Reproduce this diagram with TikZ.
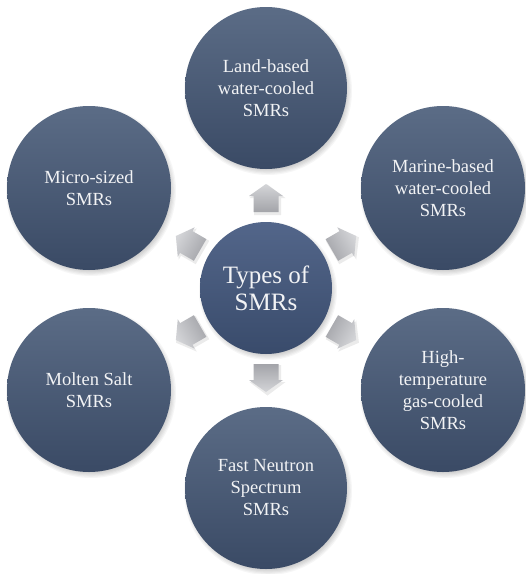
\documentclass[tikz,border=0pt]{standalone}
\usepackage{fontspec}
\setmainfont{Liberation Serif}
\definecolor{cTop}{HTML}{5B6C86}
\definecolor{cBot}{HTML}{3A4A65}
\definecolor{ccTop}{HTML}{53668A}
\definecolor{ccBot}{HTML}{394B6B}
\definecolor{txt}{HTML}{F2F3F5}
\definecolor{aTop}{HTML}{D4D5D8}
\definecolor{aBot}{HTML}{A3A4A9}
\newcommand{\fuzzyshadow}[3]{%
  \foreach \k in {0,...,6}{%
    \fill[black,opacity=0.035] (#1+2,#2+3) circle ({#3+3-\k*1.2});
  }}
\begin{document}
\begin{tikzpicture}[x=1pt,y=-1pt,
  outer/.style={circle,minimum size=162pt,inner sep=0pt,align=center,
    top color=cTop,bottom color=cBot,text=txt,
    font=\fontsize{18.5}{22}\selectfont},
  hub/.style={circle,minimum size=132pt,inner sep=0pt,align=center,
    top color=ccTop,bottom color=ccBot,text=txt,
    font=\fontsize{25}{27}\selectfont},
  blockarrow/.style={top color=aTop,bottom color=aBot,draw=none}]
\useasboundingbox (0,0) rectangle (526,574);
\fill[white] (0,0) rectangle (526,574);
% shadows
\fuzzyshadow{266}{88}{81}
\fuzzyshadow{443}{188}{82}
\fuzzyshadow{443}{390}{82}
\fuzzyshadow{266}{488}{81}
\fuzzyshadow{89}{390}{82}
\fuzzyshadow{89}{188}{82}
\fuzzyshadow{266}{288}{66}
% arrows
\foreach \ang/\px/\py in {90/266/198, 30/344/243, -30/344/333, 270/266/378, 210/188/333, 150/188/243}{
  \fill[black,opacity=0.08,shift={(\px+1.5,\py+2)},rotate=\ang]
    (-15,-13.5) -- (2,-13.5) -- (2,-18) -- (15.5,0) -- (2,18) -- (2,13.5) -- (-15,13.5) -- cycle;
  \begin{scope}[shift={(\px,\py)},rotate=\ang]
    \shade[blockarrow,shading angle=\ang-90]
      (-14,-12.5) -- (2,-12.5) -- (2,-17) -- (14,0) -- (2,17) -- (2,12.5) -- (-14,12.5) -- cycle;
  \end{scope}
}
% circles
\node[outer] (land) at (266,88) {Land-based\\water-cooled\\SMRs};
\node[outer,minimum size=164pt] (marine) at (443,188) {Marine-based\\water-cooled\\SMRs};
\node[outer,minimum size=164pt] (htgc) at (443,390) {High-\\temperature\\gas-cooled\\SMRs};
\node[outer] (fast) at (266,488) {Fast Neutron\\Spectrum\\SMRs};
\node[outer,minimum size=164pt] (molten) at (89,390) {Molten Salt\\SMRs};
\node[outer,minimum size=164pt] (micro) at (89,188) {Micro-sized\\SMRs};
\node[hub] (hub) at (266,288) {Types of\\SMRs};
\end{tikzpicture}
\end{document}
